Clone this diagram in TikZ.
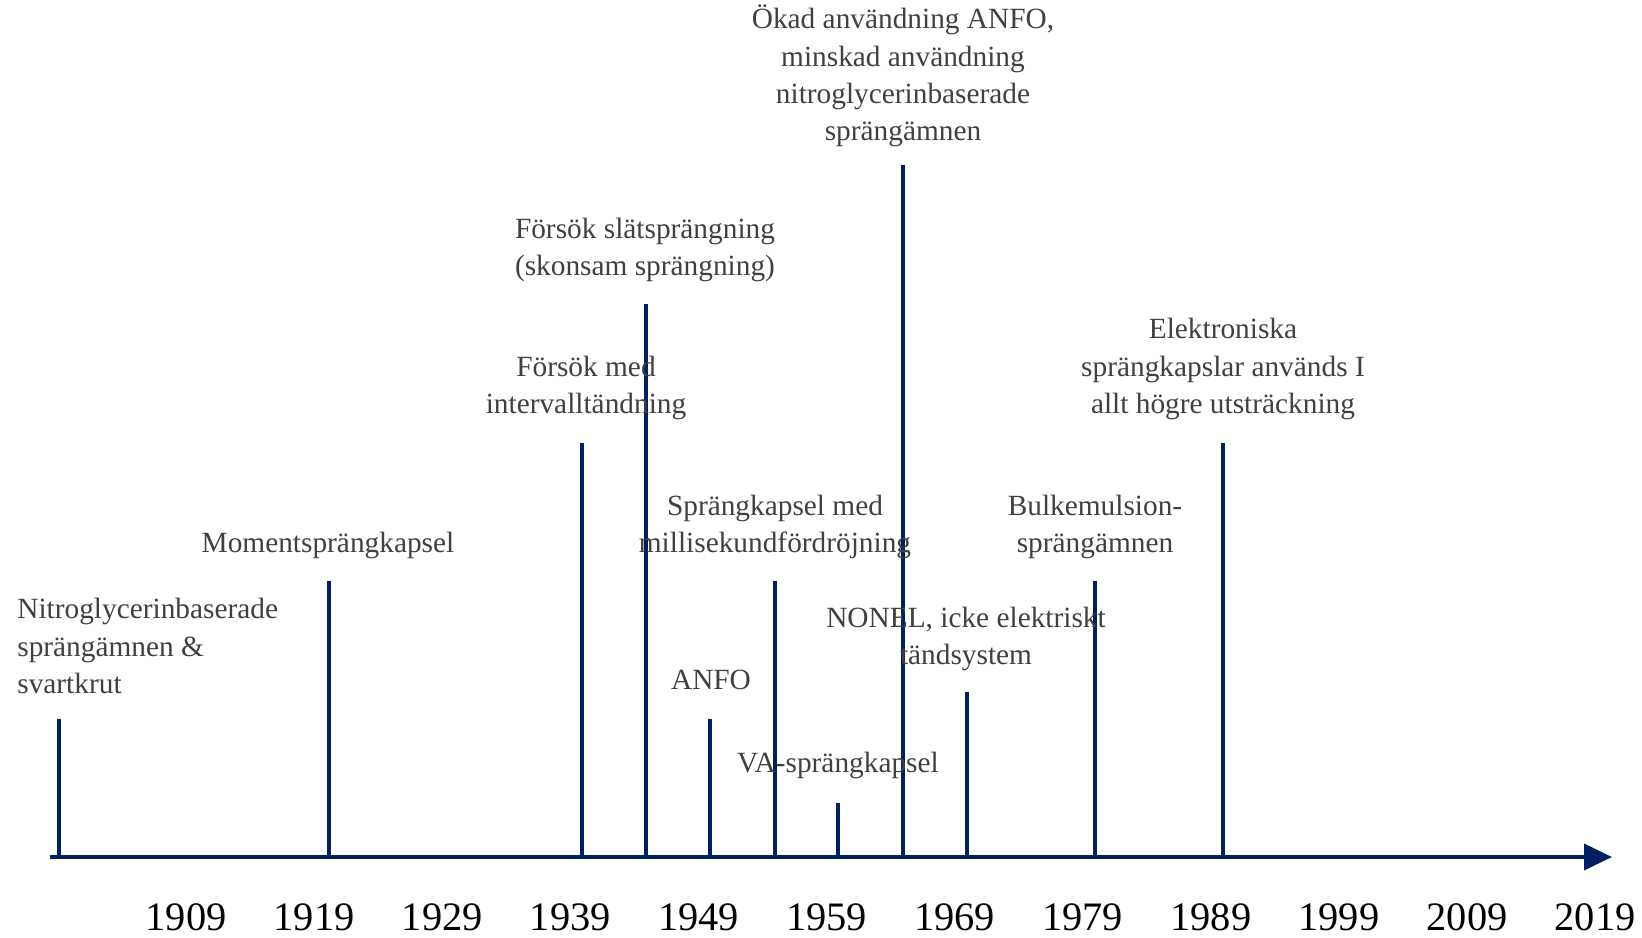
\documentclass[tikz,border=0pt]{standalone}
\usepackage{fontspec}
\setmainfont{Liberation Serif}
\usetikzlibrary{arrows.meta}
\definecolor{navy}{RGB}{0,32,96}
\definecolor{labelgray}{RGB}{64,64,64}

\begin{document}
\begin{tikzpicture}[x=0.02cm,y=-0.02cm,
  axis/.style={navy,line width=0.08cm,-{Triangle[length=0.56cm,width=0.52cm]}},
  event/.style={navy,line width=0.08cm},
  lab/.style={labelgray,inner sep=0pt,align=center,font=\fontsize{16.7}{21.3}\selectfont},
  year/.style={black,inner sep=0pt,font=\fontsize{23}{26}\selectfont}]
\useasboundingbox (0,0) rectangle (1642,937);
\coordinate (start) at (50,857);
\coordinate (end) at (1612,857);
\draw[axis] (start) -- (end);
\foreach \n/\x/\t in {a/59/719,b/329/581,c/582/443,d/646/304,e/710/719,f/775/581,
  g/838/803,h/903/165,i/967/692,j/1095/581,k/1223/443} {
  \coordinate (b\n) at (\x,857);
  \coordinate (t\n) at (\x,\t);
  \draw[event] (b\n) -- (t\n);
}
\foreach \i/\yr in {0/1909,1/1919,2/1929,3/1939,4/1949,5/1959,6/1969,7/1979,8/1989,9/1999,10/2009,11/2019} {
  \node[year] (y\yr) at (186+128.1*\i,917) {\yr};
}
\node[lab,align=left,anchor=west] (nitro) at (17,646) {Nitroglycerinbaserade\\sprängämnen \&\\svartkrut};
\node[lab] (moment) at (328,545) {Momentsprängkapsel};
\node[lab] (interv) at (586,388) {Försök med\\intervalltändning};
\node[lab] (slat) at (645,250) {Försök slätsprängning\\(skonsam sprängning)};
\node[lab] (okad) at (903,76) {Ökad användning ANFO,\\minskad användning\\nitroglycerinbaserade\\sprängämnen};
\node[lab] (milli) at (775,527) {Sprängkapsel med\\millisekundfördröjning};
\node[lab] (anfo) at (711,680) {ANFO};
\node[lab] (va) at (838,765) {VA-sprängkapsel};
\node[lab] (nonel) at (966,639) {NONEL, icke elektriskt\\tändsystem};
\node[lab] (bulk) at (1095,527) {Bulkemulsion-\\sprängämnen};
\node[lab] (elek) at (1223,369) {Elektroniska\\sprängkapslar används I\\allt högre utsträckning};
\end{tikzpicture}
\end{document}
